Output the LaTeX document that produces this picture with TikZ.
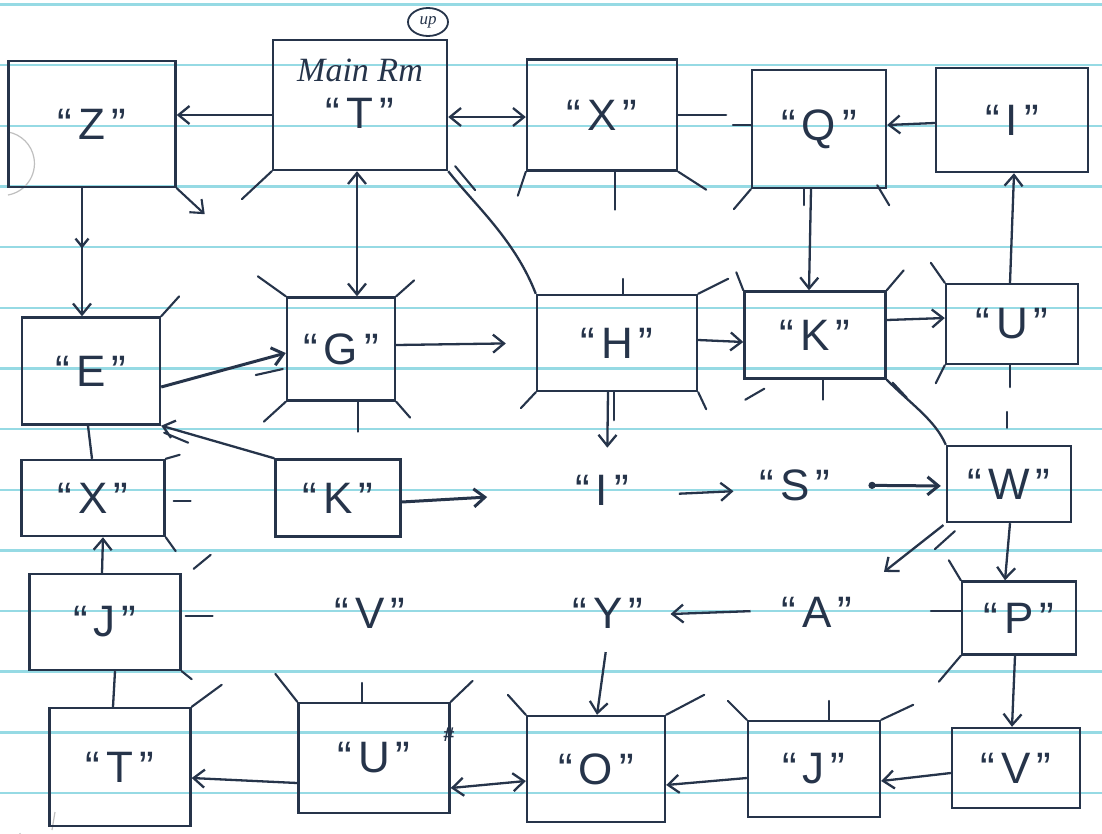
\documentclass[tikz,border=0pt]{standalone}
\usepackage{fontspec}
\setmainfont{Liberation Sans}
\newfontfamily\cursivefont{Liberation Serif}
\usetikzlibrary{arrows.meta,shapes.geometric,decorations.markings}
\definecolor{ink}{RGB}{38,52,74}
\definecolor{rulecol}{RGB}{150,218,228}
\newcommand\qlbl[1]{\textquotedblleft\hspace{6pt}#1\hspace{6pt}\textquotedblright}
\begin{document}
\begin{tikzpicture}[x=1pt,y=-1pt,
  >={Straight Barb[length=11pt,width=18pt]},
  every node/.style={text=ink},
  room/.style={draw=ink, line width=2.4pt, inner sep=0pt, font=\fontsize{44}{48}\selectfont},
  word/.style={inner sep=0pt, font=\fontsize{44}{48}\selectfont},
  conn/.style={draw=ink, line width=2.3pt, ->},
  dconn/.style={draw=ink, line width=2.3pt, <->},
  link/.style={draw=ink, line width=2.3pt},
  stub/.style={draw=ink, line width=2.1pt, line cap=round},
  faint/.style={draw=black!25, line width=1.2pt},
]
\useasboundingbox (0,0) rectangle (1102,833);
\fill[white] (0,0) rectangle (1102,833);
% ruled paper
\foreach \k in {0,...,13}{
  \pgfmathsetmacro{\yy}{4.5+60.65*\k}
  \draw[rulecol, line width=2.4pt] (0,\yy) -- (1102,\yy);
}
% faint pencil circles at the left margin
\draw[faint] (8,195) arc[start angle=80, end angle=-80, radius=32];
\draw[faint] (20,833) arc[start angle=180, end angle=30, radius=30];
\draw[faint] (55,812) -- (52,830);

% ---------- rooms ----------
\node[room, minimum width=167pt, minimum height=126pt] (Z) at (92,124) {\qlbl{Z}};
\node[room, minimum width=174pt, minimum height=130pt,
  label={[yshift=35pt, text=ink, font=\cursivefont\itshape\fontsize{34}{34}\selectfont]center:Main Rm},
  label={[yshift=-8pt, text=ink, font=\fontsize{44}{48}\selectfont]center:\qlbl{T}}] (T) at (360,105) {};
\node[draw=ink, ellipse, line width=1.8pt, minimum width=40pt, minimum height=28pt, inner sep=0pt,
  font=\cursivefont\itshape\fontsize{17}{17}\selectfont] (up) at (428,22) {up};
\node[room, minimum width=150pt, minimum height=111pt] (X1) at (602,115) {\qlbl{X}};
\node[room, minimum width=134pt, minimum height=118pt] (Q) at (819,129) {\qlbl{Q}};
\node[room, minimum width=152pt, minimum height=104pt] (I1) at (1012,120) {\qlbl{I}};
\node[room, minimum width=138pt, minimum height=107pt] (E) at (91,371) {\qlbl{E}};
\node[room, minimum width=108pt, minimum height=103pt] (G) at (341,349) {\qlbl{G}};
\node[room, minimum width=160pt, minimum height=96pt] (H) at (617,343) {\qlbl{H}};
\node[room, minimum width=141pt, minimum height=87pt] (K1) at (815,335) {\qlbl{K}};
\node[room, minimum width=132pt, minimum height=80pt] (U1) at (1012,324) {\qlbl{U}};
\node[room, minimum width=143pt, minimum height=76pt] (X2) at (93,498) {\qlbl{X}};
\node[room, minimum width=125pt, minimum height=77pt] (K2) at (338,498) {\qlbl{K}};
\node[word] (I2) at (602,490) {\qlbl{I}};
\node[word] (S) at (795,485) {\qlbl{S}};
\node[room, minimum width=124pt, minimum height=76pt] (W) at (1009,484) {\qlbl{W}};
\node[room, minimum width=151pt, minimum height=96pt] (J1) at (105,622) {\qlbl{J}};
\node[word] (V1) at (370,613) {\qlbl{V}};
\node[word] (Y) at (608,613) {\qlbl{Y}};
\node[word] (A) at (817,612) {\qlbl{A}};
\node[room, minimum width=114pt, minimum height=73pt] (P) at (1019,618) {\qlbl{P}};
\node[room, minimum width=141pt, minimum height=118pt] (T2) at (120,767) {\qlbl{T}};
\node[room, minimum width=151pt, minimum height=110pt] (U2) at (374,758) {\qlbl{U}};
\node[font=\bfseries\fontsize{20}{20}\selectfont, inner sep=0pt] (hash) at (449,735) {\#};
\node[room, minimum width=138pt, minimum height=106pt] (O) at (596,769) {\qlbl{O}};
\node[room, minimum width=132pt, minimum height=96pt] (J2) at (814,769) {\qlbl{J}};
\node[room, minimum width=128pt, minimum height=80pt] (V2) at (1016,768) {\qlbl{V}};

% ---------- connectors ----------
\draw[conn] (T.west |- 0,115) -- (Z.east |- 0,115);
\draw[conn, decoration={markings, mark=at position 0.47 with {\arrow{Straight Barb[length=8pt,width=13pt]}}}, postaction={decorate}]
  (Z.south -| 82,0) -- (E.north -| 82,0);
\draw[dconn] (T.east |- 0,117) -- (X1.west |- 0,117);
\draw[dconn] (T.south -| 357,0) -- (G.north -| 357,0);
\draw[link] (T.south east) .. controls (475,205) and (515,240) .. (H.north west);
\draw[stub] (T.south east) ++(7,-5) -- ++(20,24);
\draw[conn, line width=3pt] ([yshift=-16pt]E.east) -- ([yshift=-4pt]G.west);
\draw[conn, shorten >=30pt] (G.east |- 0,345) -- (H.west |- 0,343);
\draw[conn] (H.east |- 0,340) -- (K1.west |- 0,342);
\draw[conn] (Q.south -| 811,0) -- (K1.north -| 809,0);
\draw[stub] (Q.south -| 804,0) -- ++(0,16);
\draw[conn] (K1.east |- 0,320) -- (U1.west |- 0,318);
\draw[conn] (I1.west |- 0,123) -- (Q.east |- 0,125);
\draw[conn] (U1.north -| 1010,0) -- (I1.south -| 1014,0);
\draw[link] (K1.south east) .. controls (912,405) and (935,420) .. (W.north west);
\draw[stub] (K1.south east) ++(6,3) -- ++(14,15);
\draw[conn, shorten >=27pt] (H.south -| 608,0) -- (I2.north -| 607,0);
\draw[stub] (H.south -| 614,0) -- ++(0,28);
\draw[conn] (K2.north west) -- (E.south east);
\draw[stub] (E.south east) ++(3,7) -- ++(24,10);
\draw[conn, line width=3pt, shorten >=88pt] (K2.east |- 0,502) -- (I2.west |- 0,492);
\draw[conn, shorten <=50pt, shorten >=26pt] (I2.east |- 0,496) -- (S.west |- 0,490);
\draw[draw=ink, line width=3pt, {Circle[length=7pt]}-{Straight Barb[length=11pt,width=18pt]}, shorten <=38pt, shorten >=5pt]
  (S.east |- 0,485) -- (W.west |- 0,486);
\draw[conn, shorten <=3pt, shorten >=40pt] (W.south west) -- (A.north east);
\draw[stub] (W.south west) ++(9,8) -- ++(-20,18);
\draw[conn] (W.south -| 1010,0) -- (P.north -| 1005,0);
\draw[conn, shorten <=31pt, shorten >=27pt] (A.west |- 0,610) -- (Y.east |- 0,615);
\draw[conn, shorten <=24pt] (Y.south -| 609,0) -- (O.north -| 597,0);
\draw[conn] (P.south -| 1015,0) -- (V2.north -| 1012,0);
\draw[conn] (V2.west |- 0,773) -- (J2.east |- 0,781);
\draw[conn] (J2.west |- 0,778) -- (O.east |- 0,785);
\draw[dconn] (O.west |- 0,781) -- (U2.east |- 0,788);
\draw[conn] (U2.west |- 0,783) -- (T2.east |- 0,778);
\draw[conn] (J1.north -| 102,0) -- (X2.south -| 103,0);
\draw[link] (E.south -| 88,0) -- (X2.north -| 92,0);
\draw[link] (J1.south -| 115,0) -- (T2.north -| 113,0);

% ---------- exits, doors and wall corners ----------
\draw[stub, ->] (Z.south east) -- ++(28,26);
\draw[stub] (T.south west) -- ++(-30,28);
\draw[stub] (X1.south west) -- ++(-8,24);
\draw[stub] (X1.south -| 615,0) -- ++(0,38);
\draw[stub] (X1.south east) -- ++(28,18);
\draw[stub] (X1.east |- 0,115) -- ++(48,0);
\draw[stub] (Q.west |- 0,125) -- ++(-18,0);
\draw[stub] (Q.south west) -- ++(-17,20);
\draw[stub] (Q.south east) ++(-10,-4) -- ++(12,20);
\draw[stub] (E.north east) -- ++(18,-20);
\draw[stub] (G.north west) -- ++(-28,-20);
\draw[stub] (G.north east) -- ++(18,-16);
\draw[stub] (G.south west) -- ++(-22,20);
\draw[stub] (G.south east) -- ++(14,16);
\draw[stub] (G.south -| 358,0) -- ++(0,30);
\draw[stub] (G.west |- 0,369) ++(-3,0) -- ++(-27,6);
\draw[stub] (H.north -| 623,0) -- ++(0,-15);
\draw[stub] (H.north east) -- ++(30,-15);
\draw[stub] (H.south west) -- ++(-15,16);
\draw[stub] (H.south east) -- ++(8,17);
\draw[stub] (K1.north west) -- ++(-7,-18);
\draw[stub] (K1.north east) -- ++(17,-20);
\draw[stub] (K1.south west) ++(2,20) -- ++(19,-11);
\draw[stub] (K1.south -| 823,0) -- ++(0,20);
\draw[stub] (U1.north west) -- ++(-14,-20);
\draw[stub] (U1.south west) -- ++(-9,18);
\draw[stub] (U1.south -| 1010,0) -- ++(0,22);
\draw[stub] (W.north -| 1007,0) ++(0,-17) -- ++(0,-16);
\draw[stub] (P.north west) -- ++(-12,-20);
\draw[stub] (P.west |- 0,611) -- ++(-30,0);
\draw[stub] (P.south west) -- ++(-22,26);
\draw[stub] (X2.north east) -- ++(14,-4);
\draw[stub] (X2.east |- 0,501) ++(8,0) -- ++(17,0);
\draw[stub] (X2.south east) -- ++(10,14);
\draw[stub] (J1.north east) ++(12,-4) -- ++(17,-14);
\draw[stub] (J1.east |- 0,616) ++(4,0) -- ++(27,0);
\draw[stub] (J1.south east) -- ++(10,8);
\draw[stub] (T2.north east) -- ++(30,-22);
\draw[stub] (U2.north west) -- ++(-22,-28);
\draw[stub] (U2.north east) -- ++(22,-21);
\draw[stub] (U2.north -| 362,0) -- ++(0,-19);
\draw[stub] (O.north west) -- ++(-18,-20);
\draw[stub] (O.north east) -- ++(38,-20);
\draw[stub] (J2.north west) -- ++(-19,-19);
\draw[stub] (J2.north east) -- ++(32,-15);
\draw[stub] (J2.north -| 829,0) -- ++(0,-19);
\end{tikzpicture}
\end{document}
